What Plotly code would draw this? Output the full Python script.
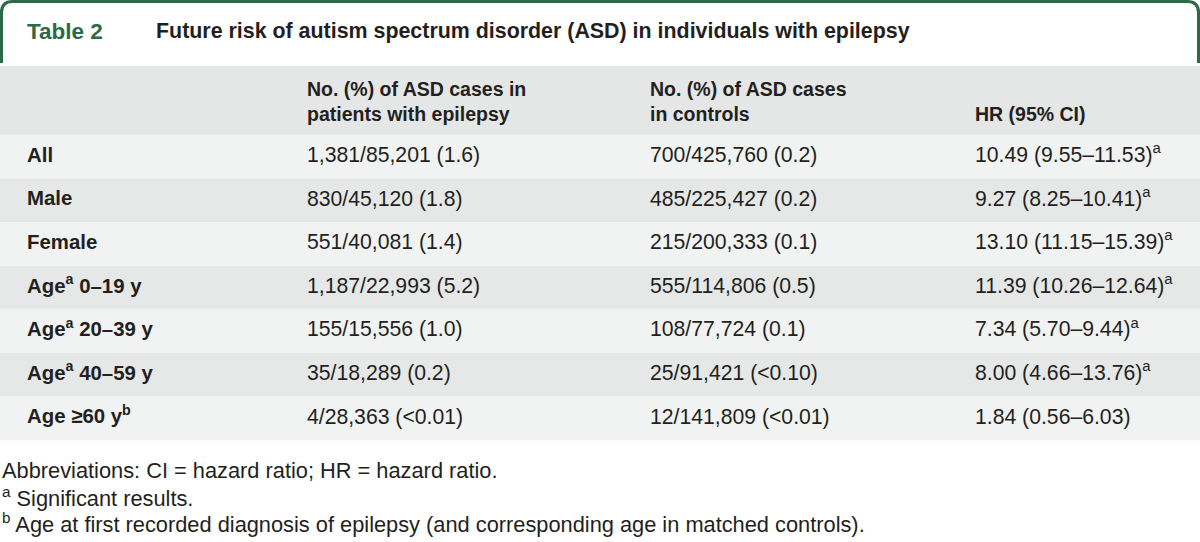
import plotly.graph_objects as go

# ---------------- data ----------------
table_label = "Table 2"
table_title = "Future risk of autism spectrum disorder (ASD) in individuals with epilepsy"

header_cols = [
    "",
    "No. (%) of ASD cases in<br>patients with epilepsy",
    "No. (%) of ASD cases<br>in controls",
    "<br>HR (95% CI)",
]

row_labels = [
    "All",
    "Male",
    "Female",
    "Age<sup>a</sup> 0–19 y",
    "Age<sup>a</sup> 20–39 y",
    "Age<sup>a</sup> 40–59 y",
    "Age ≥60 y<sup>b</sup>",
]
epilepsy_cases = [
    "1,381/85,201 (1.6)",
    "830/45,120 (1.8)",
    "551/40,081 (1.4)",
    "1,187/22,993 (5.2)",
    "155/15,556 (1.0)",
    "35/18,289 (0.2)",
    "4/28,363 (&lt;0.01)",
]
control_cases = [
    "700/425,760 (0.2)",
    "485/225,427 (0.2)",
    "215/200,333 (0.1)",
    "555/114,806 (0.5)",
    "108/77,724 (0.1)",
    "25/91,421 (&lt;0.10)",
    "12/141,809 (&lt;0.01)",
]
hazard_ratios = [
    "10.49 (9.55–11.53)<sup>a</sup>",
    "9.27 (8.25–10.41)<sup>a</sup>",
    "13.10 (11.15–15.39)<sup>a</sup>",
    "11.39 (10.26–12.64)<sup>a</sup>",
    "7.34 (5.70–9.44)<sup>a</sup>",
    "8.00 (4.66–13.76)<sup>a</sup>",
    "1.84 (0.56–6.03)",
]
footnotes = [
    "Abbreviations: CI = hazard ratio; HR = hazard ratio.",
    "<sup>a</sup> Significant results.",
    "<sup>b</sup> Age at first recorded diagnosis of epilepsy (and corresponding age in matched controls).",
]

# ---------------- layout / style ----------------
W, H = 1200, 542
GREEN = "#2b6a48"
TEXT = "#231f20"
HEADER_BG = "#e5e6e6"
ROW_BG = ["#f1f2f2", "#e6e7e7"]
BODY_FONT = "Liberation Sans, Arial, sans-serif"
NOTE_FONT = "Liberation Sans, Arial, sans-serif"

col_x = [27, 307, 650, 975]
header_top, header_bottom = 66, 135
row_h = 43.6
body_top = header_bottom
fs_body = 21.2
fs_head = 19.5
fs_label = 20.4

fig = go.Figure()
shapes = []

# title box (rounded top corners, open at bottom)
r = 11
x0, x1, y0, y1 = 1.5, 1198.5, 1.5, 63
path = (f"M {x0},{y1} L {x0},{y0 + r} Q {x0},{y0} {x0 + r},{y0} "
        f"L {x1 - r},{y0} Q {x1},{y0} {x1},{y0 + r} L {x1},{y1}")
shapes.append(dict(type="path", path=path, xref="x", yref="y",
                   line=dict(color=GREEN, width=3), layer="above"))

# header background
shapes.append(dict(type="rect", xref="x", yref="y", x0=0, x1=W,
                   y0=header_top, y1=header_bottom, fillcolor=HEADER_BG,
                   line=dict(width=0), layer="below"))
# body row backgrounds
for i in range(len(row_labels)):
    shapes.append(dict(type="rect", xref="x", yref="y", x0=0, x1=W,
                       y0=body_top + i * row_h, y1=body_top + (i + 1) * row_h,
                       fillcolor=ROW_BG[i % 2], line=dict(width=0), layer="below"))

row_y = [body_top + (i + 0.5) * row_h for i in range(len(row_labels))]
header_y = (header_top + header_bottom) / 2 + 3

# header text
fig.add_trace(go.Scatter(
    x=col_x[1:], y=[header_y] * 3, text=header_cols[1:], mode="text",
    textposition="middle right", hoverinfo="skip",
    textfont=dict(family=BODY_FONT, size=fs_head, color=TEXT, weight="bold"),
))
# row labels
fig.add_trace(go.Scatter(
    x=[col_x[0]] * len(row_labels), y=row_y, text=row_labels, mode="text",
    textposition="middle right", hoverinfo="skip",
    textfont=dict(family=BODY_FONT, size=fs_label, color=TEXT, weight="bold"),
))
for cx, col in zip(col_x[1:], [epilepsy_cases, control_cases, hazard_ratios]):
    fig.add_trace(go.Scatter(
        x=[cx] * len(col), y=row_y, text=col, mode="text",
        textposition="middle right", hoverinfo="skip",
        textfont=dict(family=BODY_FONT, size=fs_body, color=TEXT),
    ))

annotations = [
    dict(x=25, y=31, xref="x", yref="y", text=f"<b>{table_label}</b>",
         showarrow=False, xanchor="left", yanchor="middle",
         font=dict(family=BODY_FONT, size=22.5, color=GREEN)),
    dict(x=154, y=31, xref="x", yref="y", text=f"<b>{table_title}</b>",
         showarrow=False, xanchor="left", yanchor="middle",
         font=dict(family=BODY_FONT, size=21.4, color=TEXT)),
]
note_y = [470, 497, 523]
for ny, note in zip(note_y, footnotes):
    annotations.append(dict(x=0, y=ny, xref="x", yref="y", text=note,
                            showarrow=False, xanchor="left", yanchor="middle",
                            font=dict(family=NOTE_FONT, size=21.8, color=TEXT)))

fig.update_layout(
    width=W, height=H, margin=dict(l=0, r=0, t=0, b=0),
    paper_bgcolor="white", plot_bgcolor="white", showlegend=False,
    xaxis=dict(range=[0, W], visible=False, fixedrange=True),
    yaxis=dict(range=[H, 0], visible=False, fixedrange=True),
    shapes=shapes, annotations=annotations,
)

fig.write_html(
    "out.html",
    config={"displayModeBar": False},
    post_script="document.body.style.margin='0';document.body.style.overflow='hidden';",
)
